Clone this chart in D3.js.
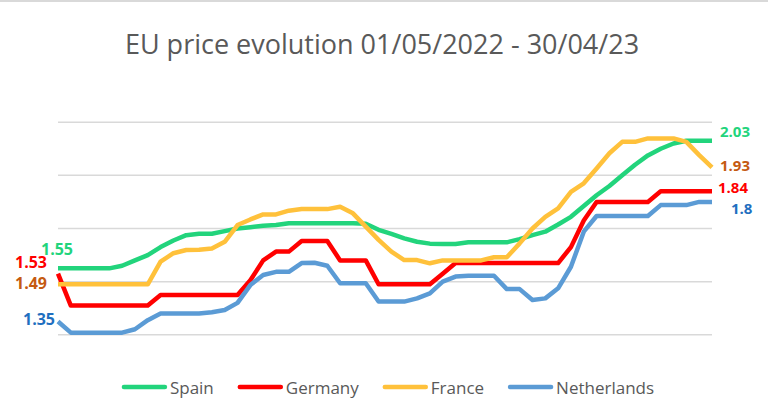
<!DOCTYPE html>
<html lang="en">
<head>
<meta charset="utf-8">
<title>EU price evolution</title>
<script src="https://cdn.jsdelivr.net/npm/d3@7"></script>
<style>
  body { margin: 0; background: #fff; }
  text { font-family: "Open Sans", sans-serif; }
</style>
</head>
<body>
<script>
// weekly prices, 01/05/2022 -> 30/04/23
var spain = [1.55,1.55,1.55,1.55,1.55,1.56,1.58,1.60,1.63,1.655,1.675,1.68,1.68,1.69,1.70,1.705,1.71,1.713,1.72,1.72,1.72,1.72,1.72,1.72,1.718,1.695,1.68,1.663,1.65,1.643,1.642,1.642,1.648,1.648,1.648,1.648,1.66,1.675,1.688,1.715,1.744,1.785,1.825,1.86,1.90,1.94,1.975,2.00,2.02,2.03,2.03,2.03];
var germany = [1.53,1.41,1.41,1.41,1.41,1.41,1.41,1.41,1.45,1.45,1.45,1.45,1.45,1.45,1.45,1.505,1.58,1.613,1.613,1.653,1.653,1.653,1.58,1.58,1.58,1.49,1.49,1.49,1.49,1.49,1.53,1.57,1.57,1.57,1.57,1.57,1.57,1.57,1.57,1.57,1.63,1.73,1.80,1.80,1.80,1.80,1.80,1.84,1.84,1.84,1.84,1.84];
var france = [1.49,1.49,1.49,1.49,1.49,1.49,1.49,1.49,1.575,1.607,1.619,1.62,1.625,1.65,1.713,1.734,1.753,1.753,1.767,1.773,1.773,1.773,1.782,1.757,1.707,1.657,1.613,1.581,1.581,1.569,1.58,1.58,1.58,1.58,1.592,1.592,1.644,1.70,1.744,1.776,1.838,1.87,1.926,1.983,2.026,2.026,2.039,2.039,2.039,2.026,1.976,1.93];
var netherlands = [1.35,1.308,1.308,1.308,1.308,1.308,1.321,1.355,1.38,1.38,1.38,1.38,1.385,1.393,1.42,1.487,1.525,1.537,1.537,1.57,1.571,1.56,1.494,1.494,1.494,1.425,1.425,1.425,1.437,1.456,1.50,1.519,1.522,1.522,1.522,1.472,1.472,1.431,1.437,1.475,1.556,1.688,1.747,1.747,1.747,1.747,1.747,1.788,1.788,1.788,1.80,1.80];

var seriesNames = ["Spain", "Germany", "France", "Netherlands"];
var seriesValues = [spain, germany, france, netherlands];
var gridTicks = [1.3, 1.5, 1.7, 1.9, 2.1];

var lineColors = ["#22d47c", "#ff0000", "#ffc13b", "#5b9bd5"];
var labelColors = ["#22d47c", "#ff0000", "#c55a11", "#1f6fc0"];

var width = 768, height = 414;

var svg = d3.select("body").append("svg")
    .attr("width", width)
    .attr("height", height);

svg.append("rect").attr("width", width).attr("height", height).attr("fill", "#fff");

// top border of the chart frame
svg.append("line")
    .attr("x1", 0).attr("x2", width)
    .attr("y1", 1).attr("y2", 1)
    .attr("stroke", "#d9d9d9").attr("stroke-width", 2);

var xScale = d3.scaleLinear()
    .domain([0, spain.length - 1])
    .range([58, 712]);

var yScale = d3.scaleLinear()
    .domain([1.3, 2.1])
    .range([334.8, 122.2]);

// gridlines
svg.selectAll(".grid")
    .data(gridTicks)
    .enter()
    .append("line")
    .attr("class", "grid")
    .attr("x1", xScale.range()[0])
    .attr("x2", xScale.range()[1])
    .attr("y1", function(d) { return yScale(d); })
    .attr("y2", function(d) { return yScale(d); })
    .attr("stroke", "#d9d9d9")
    .attr("stroke-width", 1.5);

var line = d3.line()
    .x(function(d, i) { return xScale(i); })
    .y(function(d) { return yScale(d); });

svg.selectAll(".series")
    .data(seriesValues)
    .enter()
    .append("path")
    .attr("class", "series")
    .attr("d", line)
    .attr("fill", "none")
    .attr("stroke", function(d, i) { return lineColors[i]; })
    .attr("stroke-width", 4.5)
    .attr("stroke-linejoin", "round");

// first / last value labels (offsets in px from the point)
var startOffsets = [[15, -19], [-11, -12], [-11, -1], [-3, -2.5]];
var endOffsets = [[8, -10], [6, -4], [8, -2], [19, 6]];

seriesValues.forEach(function(vals, i) {
    var last = vals.length - 1;
    svg.append("text")
        .attr("x", xScale(0) + startOffsets[i][0])
        .attr("y", yScale(vals[0]) + startOffsets[i][1])
        .attr("text-anchor", "end")
        .attr("dominant-baseline", "central")
        .attr("font-size", "16px")
        .attr("font-weight", "bold")
        .attr("fill", labelColors[i])
        .text(String(vals[0]));
    svg.append("text")
        .attr("x", xScale(last) + endOffsets[i][0])
        .attr("y", yScale(vals[last]) + endOffsets[i][1])
        .attr("text-anchor", "start")
        .attr("dominant-baseline", "central")
        .attr("font-size", "15px")
        .attr("font-weight", "bold")
        .attr("fill", labelColors[i])
        .text(String(vals[last]));
});

// title
svg.append("text")
    .attr("x", 382)
    .attr("y", 54)
    .attr("text-anchor", "middle")
    .attr("font-size", "27px")
    .attr("fill", "#595959")
    .text("EU price evolution 01/05/2022 - 30/04/23");

// legend
var legend = svg.append("g");
var lx = 0;
seriesNames.forEach(function(name, i) {
    var g = legend.append("g").attr("transform", "translate(" + lx + ",0)");
    g.append("line")
        .attr("x1", 2).attr("x2", 43)
        .attr("y1", 0).attr("y2", 0)
        .attr("stroke", lineColors[i])
        .attr("stroke-width", 4.5)
        .attr("stroke-linecap", "round");
    var t = g.append("text")
        .attr("x", 48)
        .attr("y", 0)
        .attr("dominant-baseline", "central")
        .attr("font-size", "17px")
        .attr("fill", "#595959")
        .text(name);
    lx += 48 + t.node().getComputedTextLength() + 24;
});
var legendWidth = lx - 24;
legend.attr("transform", "translate(" + (388 - legendWidth / 2) + ",387)");
</script>
</body>
</html>
